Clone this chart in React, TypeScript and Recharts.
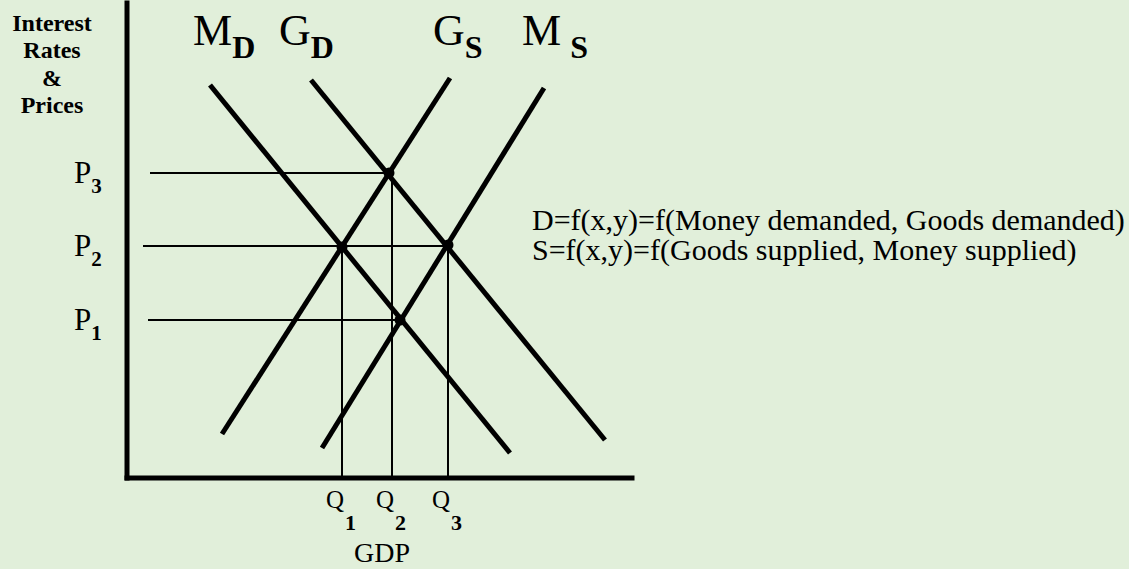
import React from "react";
import { ComposedChart, Line, Scatter, XAxis, YAxis } from "recharts";

const W = 1129;
const H = 569;
const SERIF = "Liberation Serif, DejaVu Serif, serif";

// curve end points in chart units (GDP, interest rate / price)
const moneyDemand = [{ x: 16.6, y: 78.6 }, { x: 76.6, y: 5 }];
const goodsDemand = [{ x: 36.8, y: 79.6 }, { x: 95.6, y: 7.6 }];
const goodsSupply = [{ x: 19, y: 8.8 }, { x: 64.6, y: 80 }];
const moneySupply = [{ x: 39, y: 6 }, { x: 83.4, y: 78 }];

// intersections
const equilibria = [
  { x: 52.4, y: 61 },
  { x: 43, y: 46.2 },
  { x: 64.2, y: 46.6 },
  { x: 54.6, y: 31.6 },
];

// P1, P2, P3
const priceLevels = [31.6, 46.4, 61];
const priceNames = ["1", "2", "3"];
const priceGuideFrom = [4.2, 3.2, 4.6];
const priceGuideTo = [54.6, 64.2, 53];

// Q1, Q2, Q3
const quantityLevels = [43, 53, 64.2];
const quantityNames = ["1", "2", "3"];
const quantityGuideTop = [46.4, 61, 46.4];

const curves = [moneyDemand, goodsDemand, goodsSupply, moneySupply];

const priceGuides = priceLevels.map((p, i) => [
  { x: priceGuideFrom[i], y: p },
  { x: priceGuideTo[i], y: p },
]);
const quantityGuides = quantityLevels.map((q, i) => [
  { x: q, y: quantityGuideTop[i] },
  { x: q, y: 0 },
]);

const PTick = (p: any) => {
  const i = priceLevels.indexOf(p.payload.value);
  return (
    <text x={p.x - 53} y={p.y + 10} style={{ fontFamily: SERIF, fontSize: 31 }} fill="#000">
      P
      <tspan style={{ fontSize: 21, fontWeight: "bold" }} dy={10}>
        {priceNames[i]}
      </tspan>
    </text>
  );
};

const QTick = (p: any) => {
  const i = quantityLevels.indexOf(p.payload.value);
  return (
    <text x={p.x - 16} y={p.y + 30} style={{ fontFamily: SERIF, fontSize: 25 }} fill="#000">
      Q
      <tspan style={{ fontSize: 22, fontWeight: "bold" }} dy={22} dx={1}>
        {quantityNames[i]}
      </tspan>
    </text>
  );
};

const dot = (p: any) => <circle cx={p.cx} cy={p.cy} r={5.5} fill="#000" />;

const axisStroke = { stroke: "#000", strokeWidth: 5, strokeLinecap: "square" as const };

export default function App() {
  return (
    <div style={{ position: "absolute", left: 0, top: 0, width: W, height: H, background: "#e1efda" }}>
      <ComposedChart width={W} height={H} margin={{ top: 3, right: W - 632, bottom: 0, left: 0 }}>
        <XAxis
          type="number"
          dataKey="x"
          domain={[0, 101]}
          ticks={quantityLevels}
          interval={0}
          tick={QTick}
          tickLine={false}
          tickSize={0}
          tickMargin={0}
          height={H - 478}
          axisLine={axisStroke}
          allowDataOverflow
        />
        <YAxis
          type="number"
          dataKey="y"
          domain={[0, 95]}
          ticks={priceLevels}
          interval={0}
          tick={PTick}
          tickLine={false}
          tickSize={0}
          tickMargin={0}
          width={127}
          axisLine={axisStroke}
          allowDataOverflow
        />
        {priceGuides.map((d, i) => (
          <Line key={"p" + i} data={d} dataKey="y" stroke="#000" strokeWidth={2} dot={false} isAnimationActive={false} />
        ))}
        {quantityGuides.map((d, i) => (
          <Line key={"q" + i} data={d} dataKey="y" stroke="#000" strokeWidth={2} dot={false} isAnimationActive={false} />
        ))}
        {curves.map((d, i) => (
          <Line key={"c" + i} data={d} dataKey="y" stroke="#000" strokeWidth={5} dot={false} isAnimationActive={false} />
        ))}
        <Scatter data={equilibria} dataKey="y" shape={dot} isAnimationActive={false} />
      </ComposedChart>
      <svg width={W} height={H} style={{ position: "absolute", left: 0, top: 0, pointerEvents: "none", fontFamily: SERIF }}>
        <g fill="#000">
          <g fontSize={24} fontWeight="bold" textAnchor="middle">
            <text x={52} y={31}>Interest</text>
            <text x={52} y={58}>Rates</text>
            <text x={52} y={86}>&amp;</text>
            <text x={52} y={113}>Prices</text>
          </g>
          <text x={193} y={45} fontSize={44}>
            M<tspan fontSize={32} fontWeight="bold" dy={13}>D</tspan>
          </text>
          <text x={279} y={45} fontSize={44}>
            G<tspan fontSize={32} fontWeight="bold" dy={13}>D</tspan>
          </text>
          <text x={433} y={45} fontSize={44}>
            G<tspan fontSize={32} fontWeight="bold" dy={13}>S</tspan>
          </text>
          <text x={522} y={45} fontSize={44}>
            M<tspan fontSize={32} fontWeight="bold" dy={13} dx={9}>S</tspan>
          </text>
          <text x={382} y={562} fontSize={28} textAnchor="middle">GDP</text>
          <text x={532} y={230} fontSize={30}>D=f(x,y)=f(Money demanded, Goods demanded)</text>
          <text x={532} y={260} fontSize={30}>S=f(x,y)=f(Goods supplied, Money supplied)</text>
        </g>
      </svg>
    </div>
  );
}
